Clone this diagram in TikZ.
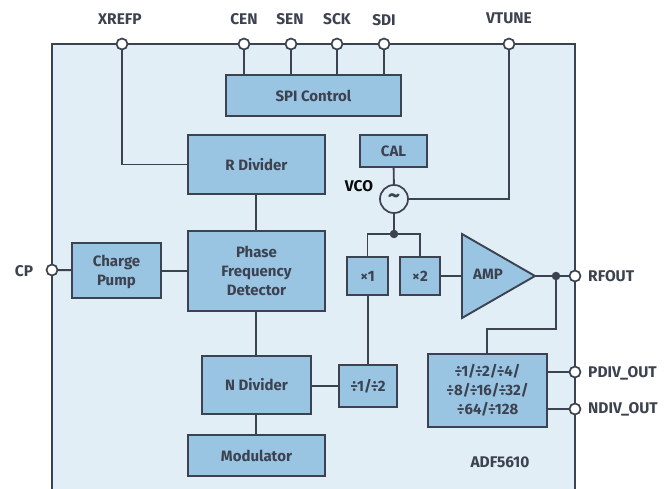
\documentclass[tikz,border=0pt]{standalone}
\usepackage{fontspec}
\setmainfont{Fira Sans}
\usetikzlibrary{calc}
\definecolor{chipbg}{HTML}{E1EEF6}
\definecolor{boxbg}{HTML}{99C5E3}
\definecolor{ink}{HTML}{3C4250}
\tikzset{
  x=1pt,y=-1pt,
  wire/.style={draw=ink,line width=1.9pt},
  blockbox/.style={draw=ink,fill=boxbg,line width=1.9pt,outer sep=0pt,inner sep=0pt,align=center,text=ink,font=\fontsize{15}{19.2}\selectfont\bfseries},
  pin/.style={circle,draw=ink,fill=white,line width=1.7pt,minimum size=11pt,inner sep=0pt,outer sep=0pt},
  junction/.style={circle,fill=ink,minimum size=8.5pt,inner sep=0pt,outer sep=0pt},
  pinlabel/.style={text=ink,inner sep=0pt,font=\fontsize{15.5}{15}\selectfont\bfseries},
}
\newcommand{\blk}[6]{\node[blockbox,minimum width=#4 pt - #2 pt,minimum height=#5 pt - #3 pt] (#1) at ({(#2+#4)/2},{(#3+#5)/2}) {#6};}
\begin{document}
\begin{tikzpicture}
\useasboundingbox (0,0) rectangle (670,489);
\fill[chipbg] (52,44) rectangle (575,489);
\draw[wire] (52,489) -- (52,44) -- (575,44) -- (575,489);
% pins
\node[pin] (xrefp) at (122,44) {};
\node[pin] (cen) at (244,44) {};
\node[pin] (sen) at (291,44) {};
\node[pin] (sck) at (337,44) {};
\node[pin] (sdi) at (384,44) {};
\node[pin] (vtune) at (509,44) {};
\node[pin] (cp) at (52,270) {};
\node[pin] (rfout) at (575,276) {};
\node[pin] (pdiv) at (575,372) {};
\node[pin] (ndiv) at (575,409) {};
% labels
\node[pinlabel] (lxrefp) at (120,19) {XREFP};
\node[pinlabel] (lcen) at (244,19) {CEN};
\node[pinlabel] (lsen) at (290,19) {SEN};
\node[pinlabel] (lsck) at (337,19) {SCK};
\node[pinlabel] (lsdi) at (384,20) {SDI};
\node[pinlabel] (lvtune) at (509,18) {VTUNE};
\node[pinlabel] (lcp) at (24,271) {CP};
\node[pinlabel,anchor=west] (lrf) at (588,276) {RFOUT};
\node[pinlabel,anchor=west] (lpd) at (588,373) {PDIV\_OUT};
\node[pinlabel,anchor=west] (lnd) at (588,409) {NDIV\_OUT};
\node[pinlabel,text=black!85!ink] (lvco) at (359,186) {VCO};
\node[pinlabel] (ladf) at (500,462) {ADF5610};
% blocks
\blk{spi}{226}{75}{401}{116}{SPI Control}
\blk{rdiv}{188}{135}{325}{194}{R Divider}
\blk{cal}{360}{135}{427}{167}{CAL}
\blk{pfd}{188}{231}{325}{311}{Phase\\Frequency\\Detector}
\blk{cpump}{72}{243}{161}{298}{\rule{0pt}{15pt}Charge\\Pump}
\blk{ndivb}{202}{356}{311}{414}{N Divider}
\blk{mod}{188}{435}{325}{476}{Modulator}
\blk{xa}{347}{257}{388}{295}{×1}
\blk{xb}{400}{257}{440}{295}{×2}
\blk{half}{339}{365}{397}{407}{÷1/÷2}
\blk{odiv}{428}{354}{547}{427}{÷1/÷2/÷4/\\÷8/÷16/÷32/\\÷64/÷128}
% VCO
\node[circle,draw=ink,fill=chipbg,line width=1.7pt,minimum size=28pt,inner sep=0pt,outer sep=0pt,text=ink,font=\fontsize{24}{24}\selectfont\bfseries] (vco) at (394,199) {\string~};
% amp
\coordinate (ampt) at (462,234);
\coordinate (ampb) at (462,318);
\coordinate (ampo) at (535,276);
\coordinate (ampi) at (462,276);
\draw[draw=ink,fill=boxbg,line width=1.9pt,line join=miter] (ampt) -- (ampo) -- (ampb) -- cycle;
\node[blockbox,draw=none,fill=none] (amp) at (488,274) {AMP};
% junctions
\node[junction] (j1) at (394,234) {};
\node[junction] (j2) at (556,276) {};
% wires
\coordinate (midx) at (256,0);
\draw[wire] (cen) -- (cen |- spi.north);
\draw[wire] (sen) -- (sen |- spi.north);
\draw[wire] (sck) -- (sck |- spi.north);
\draw[wire] (sdi) -- (sdi |- spi.north);
\draw[wire] (xrefp) |- (rdiv.west);
\draw[wire] (vtune) |- (vco.east);
\draw[wire] (cal) -- (vco);
\draw[wire] (vco) -- (j1);
\draw[wire] (j1) -| (xa.north);
\draw[wire] (j1) -| (xb.north);
\draw[wire] (xb.east) -- (ampi);
\draw[wire] (ampo) -- (j2);
\draw[wire] (j2) -- (rfout);
\draw[wire] (midx |- rdiv.south) -- (midx |- pfd.north);
\draw[wire] (midx |- pfd.south) -- (midx |- ndivb.north);
\draw[wire] (midx |- ndivb.south) -- (midx |- mod.north);
\draw[wire] (cp) -- (cpump);
\draw[wire] (cpump.east |- pfd.west) -- (pfd.west);
\draw[wire] (half.north) -- (half.north |- xa.south);
\draw[wire] (half.west) -- (half.west -| ndivb.east);
\draw[wire] (487,354) -- (487,329) -| (j2);
\draw[wire] (odiv.east |- pdiv) -- (pdiv);
\draw[wire] (odiv.east |- ndiv) -- (ndiv);
\end{tikzpicture}
\end{document}
